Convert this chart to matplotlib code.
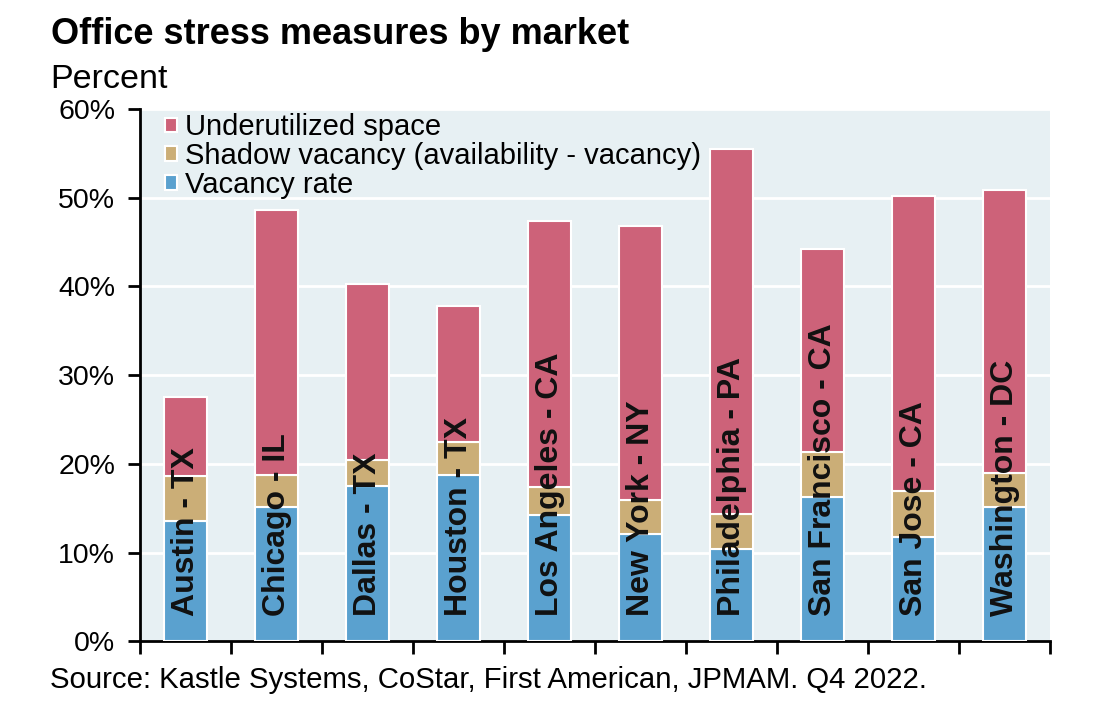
import numpy as np
import matplotlib
matplotlib.use("Agg")
import matplotlib.pyplot as plt
from matplotlib.ticker import FuncFormatter

plt.rcParams['font.family'] = ['Liberation Sans', 'DejaVu Sans']

# Daten
markets = ['Austin - TX', 'Chicago - IL', 'Dallas - TX', 'Houston - TX', 'Los Angeles - CA',
           'New York - NY', 'Philadelphia - PA', 'San Francisco - CA', 'San Jose - CA', 'Washington - DC']
vacancy = [13.6, 15.1, 17.5, 18.8, 14.2, 12.1, 10.4, 16.3, 11.8, 15.2]
shadow = [5.1, 3.7, 2.9, 3.7, 3.2, 3.8, 4.0, 5.1, 5.2, 3.8]
underutilized = [8.9, 29.8, 19.9, 15.3, 30.0, 30.9, 41.1, 22.8, 33.2, 31.9]
yticks = [0, 10, 20, 30, 40, 50, 60]

c_under = '#cd6279'
c_shadow = '#cbae77'
c_vac = '#5aa1cf'
bg = '#e7f0f3'

fig = plt.figure(figsize=(11, 7.03), dpi=100)
ax = fig.add_axes([0.1273, 0.0875, 0.8273, 0.7575])
ax.set_facecolor(bg)

x = np.arange(len(markets))
w = 0.48
bot2 = np.array(vacancy) + np.array(shadow)
b1 = ax.bar(x, vacancy, w, color=c_vac, edgecolor='white', linewidth=1.5, label='Vacancy rate', zorder=3)
b2 = ax.bar(x, shadow, w, bottom=vacancy, color=c_shadow, edgecolor='white', linewidth=1.5,
            label='Shadow vacancy (availability - vacancy)', zorder=3)
b3 = ax.bar(x, underutilized, w, bottom=bot2, color=c_under, edgecolor='white', linewidth=1.5,
            label='Underutilized space', zorder=3)

# Beschriftungen in den Balken
for i, m in enumerate(markets):
    ax.text(x[i], 2.9, m, rotation=90, ha='center', va='bottom', fontsize=23,
            fontweight='bold', color='#111111', zorder=4)

ax.set_ylim(0, 60)
ax.set_xlim(-0.5, len(markets) - 0.5)
ax.set_yticks(yticks)
ax.yaxis.set_major_formatter(FuncFormatter(lambda v, p: f'{v:.0f}%'))
ax.set_xticks(np.arange(-0.5, len(markets), 1))
ax.set_xticklabels([])
ax.grid(axis='y', color='white', linewidth=2, zorder=1)
ax.set_axisbelow(True)

for s in ['top', 'right']:
    ax.spines[s].set_visible(False)
ax.spines['left'].set_linewidth(2)
ax.spines['bottom'].set_linewidth(2)
ax.tick_params(axis='both', length=9, width=2, direction='out', labelsize=20.5)
ax.tick_params(axis='y', pad=9)

handles = [b3, b2, b1]
ax.legend(handles, [h.get_label() for h in handles], loc='upper left', frameon=False,
          fontsize=21, handlelength=0.4, handleheight=0.4, handletextpad=0.3,
          labelspacing=0.02, borderaxespad=0.3, bbox_to_anchor=(0.005, 1.03))

fig.text(0.046, 0.938, 'Office stress measures by market', fontsize=26, fontweight='bold', va='baseline')
fig.text(0.046, 0.8748, 'Percent', fontsize=24.5, va='baseline')
fig.text(0.045, 0.0209, 'Source: Kastle Systems, CoStar, First American, JPMAM. Q4 2022.', fontsize=21.2, va='baseline')

fig.savefig('out.png', dpi=100)
